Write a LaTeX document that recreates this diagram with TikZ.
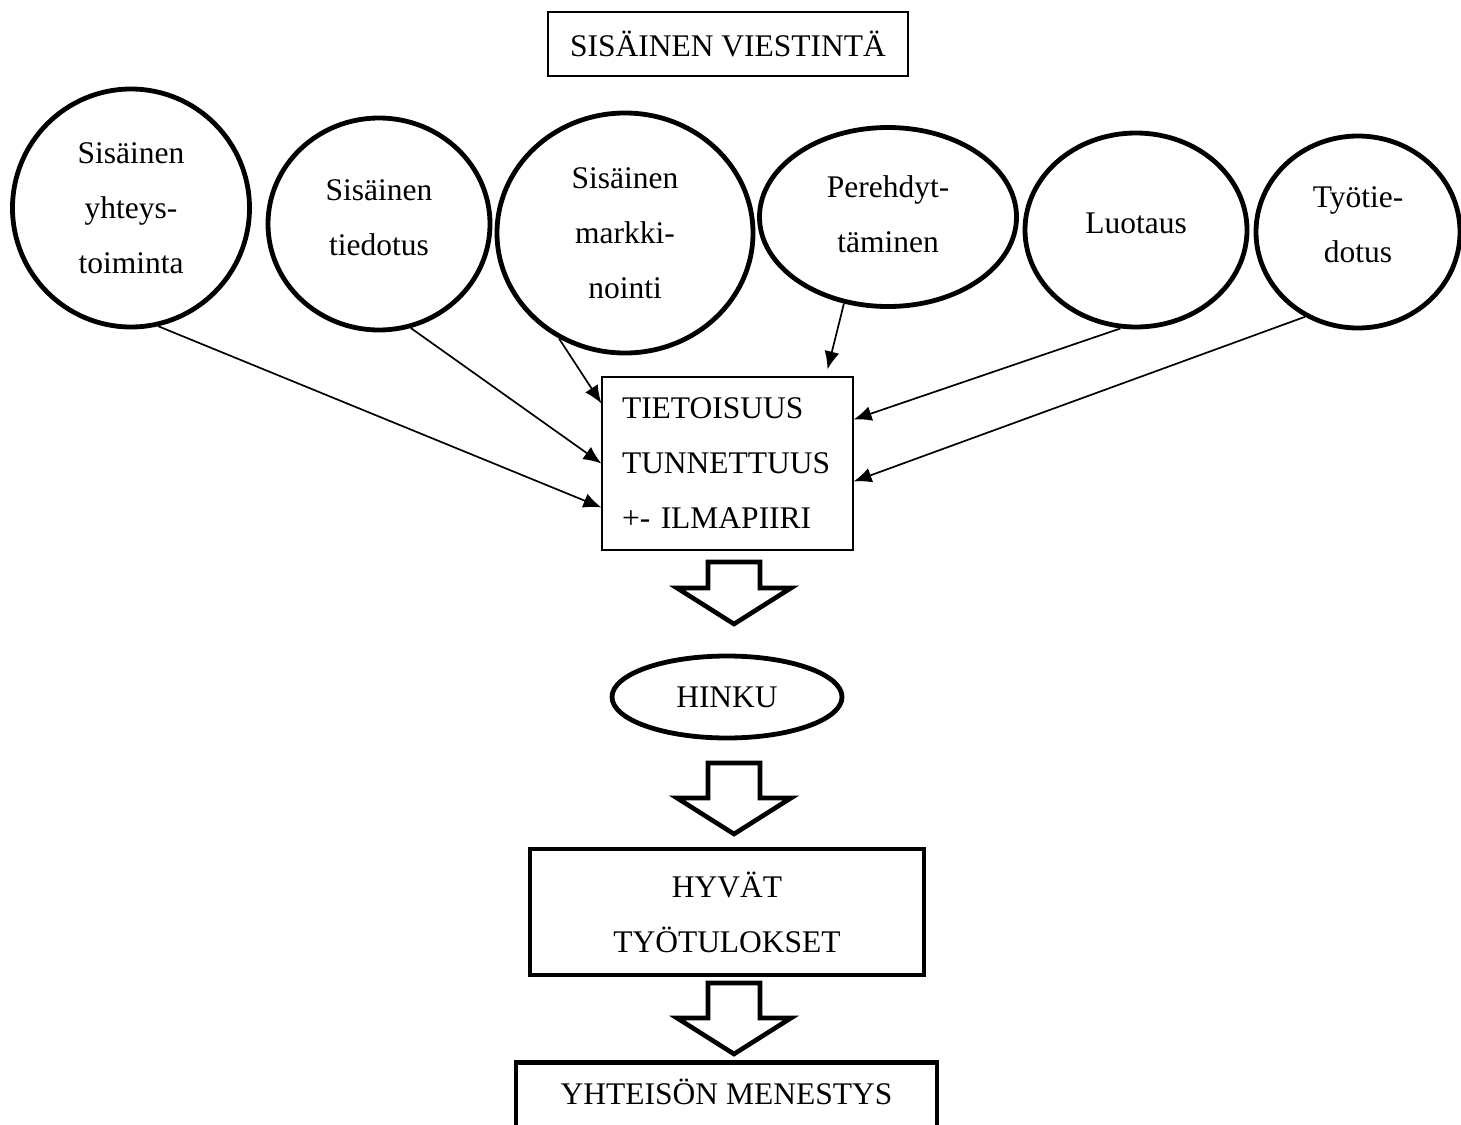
\documentclass[tikz,border=0pt]{standalone}
\usepackage{fontspec}
\setmainfont{Liberation Serif}
\usetikzlibrary{shapes.geometric,arrows.meta}

\begin{document}
\begin{tikzpicture}[x=0.5pt,y=0.5pt,
  every node/.style={font=\fontsize{15.75}{27.5}\selectfont},
  topic/.style={ellipse,draw,line width=2.4pt,inner sep=0pt,align=center},
  thinbox/.style={rectangle,draw,line width=0.6pt},
  thickbox/.style={rectangle,draw,line width=2.3pt,align=center},
  feed/.style={-{Latex[length=9pt,width=7.5pt]},line width=0.85pt},
  pics/bigarrow/.style={code={
    \draw[line width=2.3pt] (-26,0) -- (26,0) -- (26,-#1) -- (57,-#1)
      -- (0,-#1-36) -- (-57,-#1) -- (-26,-#1) -- cycle;}}]
  \useasboundingbox (0,0) rectangle (1461,-1124);

  \node[thinbox,minimum width=180pt,minimum height=32pt] (title) at (728,-44) {SISÄINEN VIESTINTÄ};

  \node[topic,minimum width=118.5pt,minimum height=119pt] (yhteys) at (131,-208) {Sisäinen\\yhteys-\\toiminta};
  \node[topic,minimum width=111pt,minimum height=106pt,text depth=6pt] (tiedotus) at (379,-224) {Sisäinen\\tiedotus};
  \node[topic,minimum width=128pt,minimum height=120pt] (markkinointi) at (625,-233) {Sisäinen\\markki-\\nointi};
  \node[topic,minimum width=128.5pt,minimum height=89.5pt,text depth=3pt] (perehdytys) at (888,-217) {Perehdyt-\\täminen};
  \node[topic,minimum width=111pt,minimum height=97pt,text depth=7pt] (luotaus) at (1136,-230) {Luotaus};
  \node[topic,minimum width=102pt,minimum height=96pt,text depth=7pt] (tyotiedotus) at (1358,-232) {Työtie-\\dotus};

  \node[thinbox,minimum width=125.5pt,minimum height=86.5pt,text width=105.5pt,inner xsep=10pt,align=left] (tietoisuus) at (727.5,-463.5) {TIETOISUUS\\TUNNETTUUS\\+- ILMAPIIRI};

  \draw[feed] (yhteys.-77) -- ([yshift=-22pt]tietoisuus.west);
  \draw[feed] (tiedotus.-73) -- (tietoisuus.west);
  \draw[feed] (markkinointi.-122) -- ([yshift=30pt]tietoisuus.west);
  \draw[feed] (perehdytys.-117) -- ([xshift=50pt,yshift=3.5pt]tietoisuus.north);
  \draw[feed] (luotaus.-99) -- ([yshift=22pt]tietoisuus.east);
  \draw[feed] (tyotiedotus.-122) -- ([yshift=-9pt]tietoisuus.east);

  \pic at (734,-562) {bigarrow=26};
  \node[topic,minimum width=115pt,minimum height=41pt] (hinku) at (727,-697) {HINKU};
  \pic at (734,-763) {bigarrow=35};
  \node[thickbox,minimum width=197pt,minimum height=63pt] (tulokset) at (727,-912) {HYVÄT\\TYÖTULOKSET};
  \pic at (734,-983) {bigarrow=35};
  \node[thickbox,anchor=north,minimum width=210.5pt,inner ysep=0pt,text height=21pt,text depth=40pt] (menestys) at (726.5,-1060) {YHTEISÖN MENESTYS};
\end{tikzpicture}
\end{document}
